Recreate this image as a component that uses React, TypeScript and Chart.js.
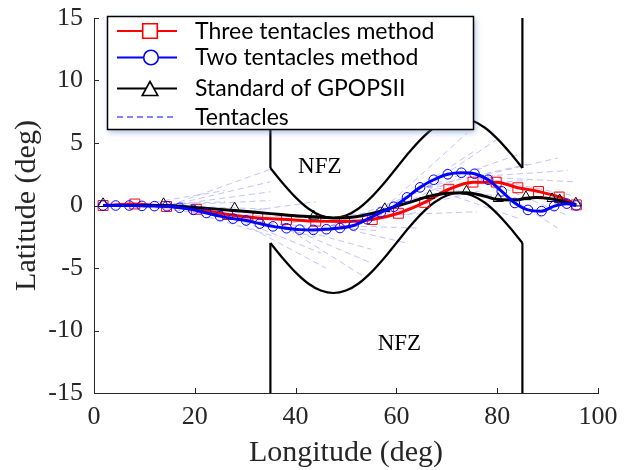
import React, { useEffect, useRef } from "react";
import { Chart, registerables } from "chart.js";

Chart.register(...registerables);

// ---------- tick values ----------
const xTickValues = [0, 20, 40, 60, 80, 100];
const yTickValues = [-15, -10, -5, 0, 5, 10, 15];

// ---------- Three tentacles method (red, squares) ----------
const threeLon = [1.8, 8.1, 14.4, 20.3, 26.5, 32.5, 38.2, 44.0, 49.7, 55.2, 60.4, 65.6, 70.4, 75.2, 79.8, 84.1, 88.2, 92.3, 95.7];
const threeLat = [0, 0.12, -0.08, -0.3, -0.72, -1.0, -1.12, -1.25, -1.27, -1.12, -0.62, 0.25, 1.3, 1.87, 1.87, 1.42, 1.12, 0.68, 0.05];

// ---------- Two tentacles method (blue, circles) ----------
const twoLon = [1.8, 4.3, 7.0, 9.5, 12.0, 14.5, 17.0, 19.7, 22.3, 25.0, 27.6, 30.2, 32.9, 35.5, 38.2, 40.8, 43.5, 46.1, 48.8, 51.5, 54.2, 56.9, 59.5, 62.1, 64.7, 67.4, 70.2, 72.9, 75.5, 78.2, 80.9, 83.5, 86.1, 88.8, 91.3, 93.8, 95.7];
const twoLat = [0, 0, 0, -0.03, -0.05, -0.06, -0.18, -0.35, -0.6, -0.85, -1.05, -1.2, -1.45, -1.67, -1.82, -1.93, -1.95, -1.9, -1.8, -1.6, -1.1, -0.55, -0.1, 0.65, 1.45, 2.06, 2.5, 2.62, 2.54, 2.06, 1.13, 0.2, -0.35, -0.45, -0.05, 0.15, 0.0];

// ---------- Standard of GPOPSII (black line + triangle nodes) ----------
const gpopsLon = [1.8, 8, 13.8, 20, 27.9, 35, 40, 43.6, 48, 52, 55, 57.7, 60, 62.6, 66.6, 70, 73.9, 77.2, 80.2, 83.8, 85.7, 87.8, 90.9, 92.4, 95.6];
const gpopsLat = [0, 0, 0, -0.15, -0.4, -0.65, -0.82, -0.9, -1.0, -0.9, -0.65, -0.35, -0.05, 0.25, 0.75, 0.98, 1.02, 0.78, 0.48, 0.45, 0.58, 0.65, 0.52, 0.4, 0.05];
const gpopsNodeLon = [1.8, 13.8, 27.9, 43.6, 57.7, 66.6, 73.9, 80.2, 85.7, 90.9, 92.4, 95.6];
const gpopsNodeLat = [0.15, 0.15, -0.2, -0.85, -0.25, 0.8, 1.15, 0.55, 0.7, 0.55, 0.45, 0.2];

// ---------- No-fly zones ----------
const nfzCurveLon = [35, 37.5, 40, 42.5, 45, 47.5, 50, 52.5, 55, 57.5, 60, 62.5, 65, 67.5, 70, 72.5, 75, 77.5, 80, 82.5, 85];
const nfzUpperLat = [3, 1.76, 0.65, -0.24, -0.8, -1, -0.8, -0.24, 0.65, 1.76, 3, 4.24, 5.35, 6.24, 6.8, 7, 6.8, 6.24, 5.35, 4.24, 3];
const nfzLowerLat = [-3, -4.24, -5.35, -6.24, -6.8, -7, -6.8, -6.24, -5.35, -4.24, -3, -1.76, -0.65, 0.24, 0.8, 1, 0.8, 0.24, -0.65, -1.76, -3];
const nfzWallLon = [35, 85];
const nfzUpperWallLat = [3, 15];
const nfzLowerWallLat = [-3, -15];
const nfzLabelLon = [44.8, 60.6];
const nfzLabelLat = [3.1, -11.1];

// ---------- Tentacles (fans of candidate paths) ----------
const tentacleStartLon = [8, 15, 26, 37, 47, 56, 66, 76];
const tentacleStartLat = [0, 0, -0.7, -1.5, -1.6, -0.8, 1.5, 2.3];
const tentacleEndLon = [
  [26, 26, 26],
  [35, 35, 35, 35, 35, 36, 36],
  [44, 44, 44, 45, 46],
  [56, 56, 55, 55, 54],
  [64, 65, 64, 62],
  [74, 76, 77, 77, 76],
  [80, 85, 86, 86, 85, 84],
  [92, 94, 95, 95, 94, 92],
];
const tentacleEndLat = [
  [1.2, 0.3, -0.8],
  [2.9, 1.9, 1.1, 0.4, -0.3, -1.5, -2.5],
  [0.3, -1, -2.5, -3.8, -5],
  [-0.5, -2, -3.5, -4.6, -5.8],
  [1, -0.5, -1.8, -3],
  [5.8, 4.5, 3, 1.2, -0.5],
  [5.3, 4.2, 3.3, 2.0, 0.5, -1],
  [3.8, 2.8, 1.9, 0.8, -0.8, -1.8],
];

const legendLabels = ["Three tentacles method", "Two tentacles method", "Standard of GPOPSII", "Tentacles"];
const nfzText = "NFZ";
const xTitle = "Longitude (deg)";
const yTitle = "Latitude (deg)";

const pts = (xs: number[], ys: number[]) => xs.map((x, i) => ({ x, y: ys[i] }));

const SERIF = "'Liberation Serif', 'Times New Roman', serif";
const AXIS = "#262626";

const decorPlugin = {
  id: "decor",
  afterDraw(chart: any) {
    const ctx = chart.ctx as CanvasRenderingContext2D;
    const xs = chart.scales.x;
    const ys = chart.scales.y;
    const area = chart.chartArea;
    ctx.save();

    // inward ticks
    ctx.strokeStyle = AXIS;
    ctx.lineWidth = 1;
    ctx.beginPath();
    xTickValues.forEach((v) => {
      const px = Math.round(xs.getPixelForValue(v)) + 0.5;
      ctx.moveTo(px, area.bottom);
      ctx.lineTo(px, area.bottom - 5);
    });
    yTickValues.forEach((v) => {
      const py = Math.round(ys.getPixelForValue(v)) + 0.5;
      ctx.moveTo(area.left, py);
      ctx.lineTo(area.left + 5, py);
    });
    ctx.stroke();

    // NFZ labels
    ctx.fillStyle = "#000";
    ctx.font = `23px ${SERIF}`;
    ctx.textAlign = "center";
    ctx.textBaseline = "middle";
    nfzLabelLon.forEach((lon, i) => {
      ctx.fillText(nfzText, xs.getPixelForValue(lon), ys.getPixelForValue(nfzLabelLat[i]));
    });

    // axis titles
    ctx.fillStyle = AXIS;
    ctx.font = `30px ${SERIF}`;
    ctx.textAlign = "center";
    ctx.textBaseline = "alphabetic";
    ctx.fillText(xTitle, (area.left + area.right) / 2, 461);
    ctx.save();
    ctx.translate(35, (area.top + area.bottom) / 2);
    ctx.rotate(-Math.PI / 2);
    ctx.fillText(yTitle, 0, 0);
    ctx.restore();

    // legend box
    const bx = 107, by = 16, bw = 366, bh = 113;
    ctx.save();
    ctx.shadowColor = "rgba(80,120,200,0.55)";
    ctx.shadowBlur = 6;
    ctx.shadowOffsetX = 2;
    ctx.shadowOffsetY = 3;
    ctx.fillStyle = "#fff";
    ctx.fillRect(bx, by, bw, bh);
    ctx.restore();
    ctx.strokeStyle = "#000";
    ctx.lineWidth = 1.5;
    ctx.strokeRect(bx + 0.5, by + 0.5, bw, bh);

    const rows = [31, 57.5, 88.5, 117];
    const lx0 = 117, lx1 = 177, mx = 150;
    const colors = ["#ff0000", "#0000ff", "#000000"];
    for (let i = 0; i < 3; i++) {
      const y = rows[i];
      ctx.strokeStyle = colors[i];
      ctx.lineWidth = 1.8;
      ctx.setLineDash([]);
      ctx.beginPath();
      ctx.moveTo(lx0, y);
      ctx.lineTo(lx1, y);
      ctx.stroke();
      ctx.lineWidth = 1.6;
      ctx.fillStyle = "#fff";
      ctx.beginPath();
      if (i === 0) {
        ctx.rect(mx - 7.3, y - 7.3, 14.6, 14.6);
      } else if (i === 1) {
        ctx.arc(mx + 1, y, 7.3, 0, Math.PI * 2);
      } else {
        ctx.moveTo(mx, y - 7);
        ctx.lineTo(mx + 7.8, y + 7);
        ctx.lineTo(mx - 7.8, y + 7);
        ctx.closePath();
      }
      ctx.fill();
      ctx.stroke();
    }
    ctx.strokeStyle = "#5a5aff";
    ctx.lineWidth = 1.3;
    ctx.setLineDash([6, 4]);
    ctx.beginPath();
    ctx.moveTo(lx0, rows[3]);
    ctx.lineTo(lx1, rows[3]);
    ctx.stroke();
    ctx.setLineDash([]);

    ctx.fillStyle = "#000";
    ctx.font = "23px Lato, 'Noto Sans', sans-serif";
    ctx.textAlign = "left";
    ctx.textBaseline = "middle";
    legendLabels.forEach((t, i) => ctx.fillText(t, 195, rows[i] + 0.5));

    ctx.restore();
  },
};

export default function App() {
  const ref = useRef<HTMLCanvasElement | null>(null);

  useEffect(() => {
    if (!ref.current) return;
    document.body.style.margin = "0";

    const datasets: any[] = [];

    tentacleStartLon.forEach((sx, f) => {
      tentacleEndLon[f].forEach((ex, j) => {
        datasets.push({
          data: [
            { x: sx, y: tentacleStartLat[f] },
            { x: ex, y: tentacleEndLat[f][j] },
          ],
          showLine: true,
          borderColor: "rgba(110,110,255,0.42)",
          borderWidth: 1,
          borderDash: [6, 4],
          pointRadius: 0,
          order: 10,
        });
      });
    });

    const nfzStyle = {
      showLine: true,
      borderColor: "#000",
      borderWidth: 2.2,
      pointRadius: 0,
      cubicInterpolationMode: "monotone",
      order: 8,
    };
    datasets.push({ ...nfzStyle, data: pts(nfzCurveLon, nfzUpperLat) });
    datasets.push({ ...nfzStyle, data: pts(nfzCurveLon, nfzLowerLat) });
    nfzWallLon.forEach((lon) => {
      datasets.push({ ...nfzStyle, data: pts([lon, lon], nfzUpperWallLat) });
      datasets.push({ ...nfzStyle, data: pts([lon, lon], nfzLowerWallLat) });
    });

    datasets.push({
      label: legendLabels[0],
      data: pts(threeLon, threeLat),
      showLine: true,
      borderColor: "#ff0000",
      borderWidth: 3,
      cubicInterpolationMode: "monotone",
      pointStyle: "rect",
      pointRadius: 7,
      pointBorderWidth: 1,
      pointBorderColor: "#ff0000",
      pointBackgroundColor: "rgba(0,0,0,0)",
      order: 4,
    });
    datasets.push({
      label: legendLabels[2],
      data: pts(gpopsLon, gpopsLat),
      showLine: true,
      borderColor: "#000",
      borderWidth: 3,
      cubicInterpolationMode: "monotone",
      pointRadius: 0,
      order: 3,
    });
    datasets.push({
      data: pts(gpopsNodeLon, gpopsNodeLat),
      showLine: false,
      pointStyle: "triangle",
      pointRadius: 5.8,
      pointBorderWidth: 1,
      pointBorderColor: "#000",
      pointBackgroundColor: "rgba(0,0,0,0)",
      order: 2,
    });
    datasets.push({
      label: legendLabels[1],
      data: pts(twoLon, twoLat),
      showLine: true,
      borderColor: "#0000ff",
      borderWidth: 3,
      cubicInterpolationMode: "monotone",
      pointStyle: "circle",
      pointRadius: 4.8,
      pointBorderWidth: 1,
      pointBorderColor: "#0000ff",
      pointBackgroundColor: "rgba(0,0,0,0)",
      order: 1,
    });

    const chart = new Chart(ref.current, {
      type: "scatter",
      data: { datasets },
      options: {
        responsive: false,
        animation: false,
        devicePixelRatio: 1,
        events: [],
        layout: { padding: { left: 0, right: 35, top: 18, bottom: 0 } },
        plugins: { legend: { display: false }, tooltip: { enabled: false } },
        scales: {
          x: {
            type: "linear",
            min: 0,
            max: 100,
            afterBuildTicks: (s: any) => {
              s.ticks = xTickValues.map((value) => ({ value }));
            },
            afterFit: (s: any) => {
              s.height = 77;
            },
            grid: { display: false, drawTicks: false, drawOnChartArea: false },
            border: { display: true, color: AXIS, width: 1 },
            ticks: {
              font: { family: SERIF, size: 26 },
              color: AXIS,
              padding: 9,
              maxRotation: 0,
              autoSkip: false,
            },
          },
          y: {
            type: "linear",
            min: -15,
            max: 15,
            afterBuildTicks: (s: any) => {
              s.ticks = yTickValues.map((value) => ({ value }));
            },
            afterFit: (s: any) => {
              s.width = 94;
              s.paddingTop = 0;
              s.paddingBottom = 0;
            },
            grid: { display: false, drawTicks: false, drawOnChartArea: false },
            border: { display: true, color: AXIS, width: 1 },
            ticks: {
              font: { family: SERIF, size: 26 },
              color: AXIS,
              padding: 11,
              autoSkip: false,
            },
          },
        },
      } as any,
      plugins: [decorPlugin],
    });

    return () => chart.destroy();
  }, []);

  return (
    <div style={{ position: "fixed", left: 0, top: 0, width: 633, height: 470, background: "#fff" }}>
      <canvas ref={ref} width={633} height={470} />
    </div>
  );
}
